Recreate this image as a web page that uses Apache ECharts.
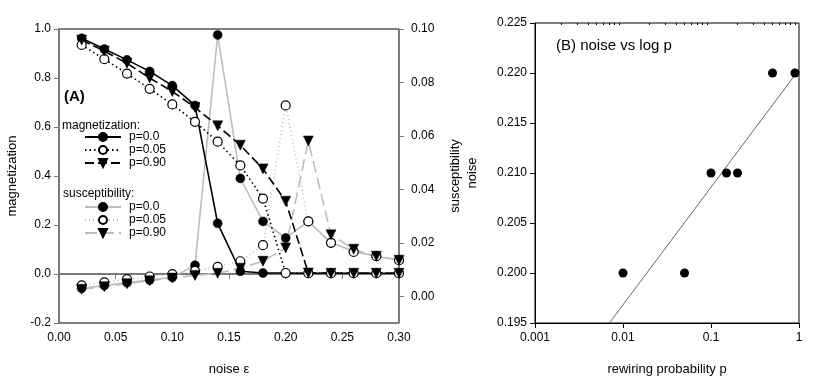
<!DOCTYPE html>
<html>
<head>
<meta charset="utf-8">
<script src="https://cdn.jsdelivr.net/npm/echarts@6/dist/echarts.min.js"></script>
<style>
  html, body { margin: 0; padding: 0; background: #fff; }
  #chart { width: 822px; height: 381px; }
</style>
</head>
<body>
<div id="chart"></div>
<script>
// panel A: noise level on the x axis
var noise = [0.02, 0.04, 0.06, 0.08, 0.10, 0.12, 0.14, 0.16, 0.18, 0.20, 0.22, 0.24, 0.26, 0.28, 0.30];

// magnetization (left axis)
var magP0  = [0.962, 0.918, 0.874, 0.827, 0.769, 0.688, 0.207, 0.011, 0.004, 0.004, 0.003, 0.003, 0.003, 0.003, 0.003];
var magP05 = [0.935, 0.877, 0.818, 0.756, 0.692, 0.621, 0.540, 0.443, 0.308, 0.004, 0.003, 0.003, 0.003, 0.003, 0.003];
var magP90 = [0.955, 0.910, 0.860, 0.800, 0.745, 0.680, 0.605, 0.526, 0.429, 0.297, 0.004, 0.003, 0.003, 0.003, 0.003];

// susceptibility (right axis)
var susP0  = [0.0030, 0.0040, 0.0051, 0.0061, 0.0071, 0.0116, 0.0978, 0.0441, 0.0280, 0.0218, 0.0280, 0.0200, 0.0168, 0.0150, 0.0135];
var susP05 = [0.0041, 0.0052, 0.0064, 0.0074, 0.0083, 0.0095, 0.0110, 0.0131, 0.0191, 0.0714, 0.0280, 0.0200, 0.0166, 0.0150, 0.0135];
var susP90 = [0.0026, 0.0036, 0.0047, 0.0058, 0.0068, 0.0078, 0.0086, 0.0105, 0.0131, 0.0181, 0.0581, 0.0230, 0.0176, 0.0150, 0.0135];

var susTicks = [0, 0.02, 0.04, 0.06, 0.08, 0.10];

// panel B: noise vs rewiring probability
var rewireP = [0.01, 0.05, 0.1, 0.15, 0.2, 0.5, 0.9];
var noiseB  = [0.200, 0.200, 0.210, 0.210, 0.210, 0.220, 0.220];
var fitLine = [[0.007, 0.195], [0.9, 0.2198]];
var logMinor = [0.002, 0.003, 0.004, 0.005, 0.006, 0.007, 0.008, 0.009,
                0.02, 0.03, 0.04, 0.05, 0.06, 0.07, 0.08, 0.09,
                0.2, 0.3, 0.4, 0.5, 0.6, 0.7, 0.8, 0.9];

var FONT = 'Liberation Sans, Arial, sans-serif';
var GREY_AXIS = '#7a7a7a';
var GREY_LINE = '#bdbdbd';

var pairs = arr => noise.map((x, i) => [x, arr[i]]);

var filled = { color: '#000', borderColor: '#000', borderWidth: 0.5, opacity: 1 };
var hollow = { color: '#fff', borderColor: '#000', borderWidth: 1.2, opacity: 1 };

function lineSeries(name, data, yIdx, color, type, symbol, item) {
	return {
		name: name,
		type: 'line',
		xAxisIndex: 0,
		yAxisIndex: yIdx,
		data: data,
		symbol: symbol,
		symbolSize: symbol === 'triangle' ? 10 : 9,
		symbolRotate: symbol === 'triangle' ? 180 : 0,
		showAllSymbol: true,
		lineStyle: { color: color, width: 1.6, type: type },
		itemStyle: item,
		animation: false,
		z: yIdx === 0 ? 3 : 2
	};
}

var legendBase = {
	orient: 'vertical', left: 84, padding: 0, itemGap: 1,
	itemWidth: 36, itemHeight: 10,
	formatter: n => n.slice(2),
	textStyle: { fontSize: 12, color: '#000', fontFamily: FONT, padding: [0, 0, 0, 3] }
};

var chart = echarts.init(document.getElementById('chart'));

var option = {
	animation: false,
	textStyle: { fontFamily: FONT },
	title: [
		{ text: '(A)', left: 64, top: 89, padding: 0,
		  textStyle: { fontSize: 15, fontWeight: 'bold', fontFamily: FONT, color: '#000' } },
		{ text: 'magnetization:', left: 62, top: 120, padding: 0,
		  textStyle: { fontSize: 12, fontWeight: 'normal', fontFamily: FONT, color: '#000' } },
		{ text: 'susceptibility:', left: 63, top: 188, padding: 0,
		  textStyle: { fontSize: 12, fontWeight: 'normal', fontFamily: FONT, color: '#000' } },
		{ text: '(B) noise vs log p', left: 556, top: 38, padding: 0,
		  textStyle: { fontSize: 15, fontWeight: 'normal', fontFamily: FONT, color: '#000' } }
	],
	legend: [
		Object.assign({}, legendBase, { top: 131, data: ['m:p=0.0', 'm:p=0.05', 'm:p=0.90'] }),
		Object.assign({}, legendBase, { top: 201, data: ['s:p=0.0', 's:p=0.05', 's:p=0.90'] })
	],
	grid: [
		{ left: 59, top: 29, width: 340, height: 296, show: true, borderColor: '#000', borderWidth: 1 },
		{ left: 535, top: 23, width: 264, height: 303, show: true, borderColor: '#000', borderWidth: 1 }
	],
	xAxis: [
		{
			gridIndex: 0, type: 'value', min: 0, max: 0.3, interval: 0.05,
			name: 'noise ε', nameLocation: 'middle', nameGap: 40,
			nameTextStyle: { fontSize: 13, color: '#000', fontFamily: FONT },
			axisLine: { lineStyle: { color: GREY_AXIS, width: 2 } },
			axisTick: { length: 5, lineStyle: { color: GREY_AXIS } },
			axisLabel: { fontSize: 12, color: '#000', margin: 9, formatter: v => v.toFixed(2) },
			splitLine: { show: false }
		},
		{
			gridIndex: 1, type: 'log', logBase: 10, min: 0.001, max: 1,
			name: 'rewiring probability p', nameLocation: 'middle', nameGap: 40,
			nameTextStyle: { fontSize: 13, color: '#000', fontFamily: FONT },
			axisLine: { lineStyle: { color: '#000', width: 1 } },
			axisTick: { length: 5, lineStyle: { color: '#000' } },
			axisLabel: { fontSize: 12, color: '#000', margin: 9,
				formatter: v => ({ 0.001: '0.001', 0.01: '0.01', 0.1: '0.1', 1: '1' }[+v.toPrecision(3)] || '') },
			splitLine: { show: false }
		},
		{
			// minor ticks of the log axis, drawn inward
			gridIndex: 1, type: 'log', logBase: 10, min: 0.001, max: 1,
			axisLine: { show: false },
			axisTick: { inside: true, length: 2, customValues: logMinor, lineStyle: { color: '#000' } },
			axisLabel: { show: false },
			splitLine: { show: false }
		}
	],
	yAxis: [
		{
			gridIndex: 0, type: 'value', min: -0.2, max: 1.0, interval: 0.2,
			name: 'magnetization', nameLocation: 'middle', nameGap: 40, nameRotate: 90,
			nameTextStyle: { fontSize: 13, color: '#000', fontFamily: FONT },
			axisLine: { lineStyle: { color: GREY_AXIS, width: 2 } },
			axisTick: { length: 5, lineStyle: { color: GREY_AXIS } },
			axisLabel: { fontSize: 12, color: '#000', margin: 8, formatter: v => v.toFixed(1) },
			splitLine: { show: false }
		},
		{
			gridIndex: 0, type: 'value', min: -0.01, max: 0.10, position: 'right',
			name: 'susceptibility', nameLocation: 'middle', nameGap: 50, nameRotate: 90,
			nameTextStyle: { fontSize: 13, color: '#000', fontFamily: FONT },
			axisLine: { lineStyle: { color: GREY_AXIS, width: 1.5 } },
			axisTick: { length: 5, customValues: susTicks, lineStyle: { color: GREY_AXIS } },
			axisLabel: { fontSize: 12, color: '#000', margin: 12, customValues: susTicks, formatter: v => v.toFixed(2) },
			splitLine: { show: false }
		},
		{
			gridIndex: 1, type: 'value', min: 0.195, max: 0.225, interval: 0.005,
			name: 'noise', nameLocation: 'middle', nameGap: 56, nameRotate: 90,
			nameTextStyle: { fontSize: 13, color: '#000', fontFamily: FONT },
			axisLine: { lineStyle: { color: '#000', width: 1 } },
			axisTick: { length: 5, lineStyle: { color: '#000' } },
			axisLabel: { fontSize: 12, color: '#000', margin: 8, formatter: v => v.toFixed(3) },
			splitLine: { show: false }
		}
	],
	series: [
		lineSeries('s:p=0.0',  pairs(susP0),  1, GREY_LINE, 'solid',   'circle',   filled),
		lineSeries('s:p=0.05', pairs(susP05), 1, GREY_LINE, [1, 3],    'circle',   hollow),
		lineSeries('s:p=0.90', pairs(susP90), 1, GREY_LINE, [12, 5],   'triangle', filled),
		lineSeries('m:p=0.0',  pairs(magP0),  0, '#000',    'solid',   'circle',   filled),
		lineSeries('m:p=0.05', pairs(magP05), 0, '#000',    [1.5, 3],  'circle',   hollow),
		lineSeries('m:p=0.90', pairs(magP90), 0, '#000',    [9, 4],    'triangle', filled),
		{
			name: 'fit', type: 'line', xAxisIndex: 1, yAxisIndex: 2,
			data: fitLine, symbol: 'none',
			lineStyle: { color: '#666', width: 1 }, z: 2
		},
		{
			name: 'points', type: 'scatter', xAxisIndex: 1, yAxisIndex: 2,
			data: rewireP.map((p, i) => [p, noiseB[i]]),
			symbol: 'circle', symbolSize: 9,
			itemStyle: { color: '#000', opacity: 1 }, z: 3
		}
	]
};

chart.setOption(option);
</script>
</body>
</html>
